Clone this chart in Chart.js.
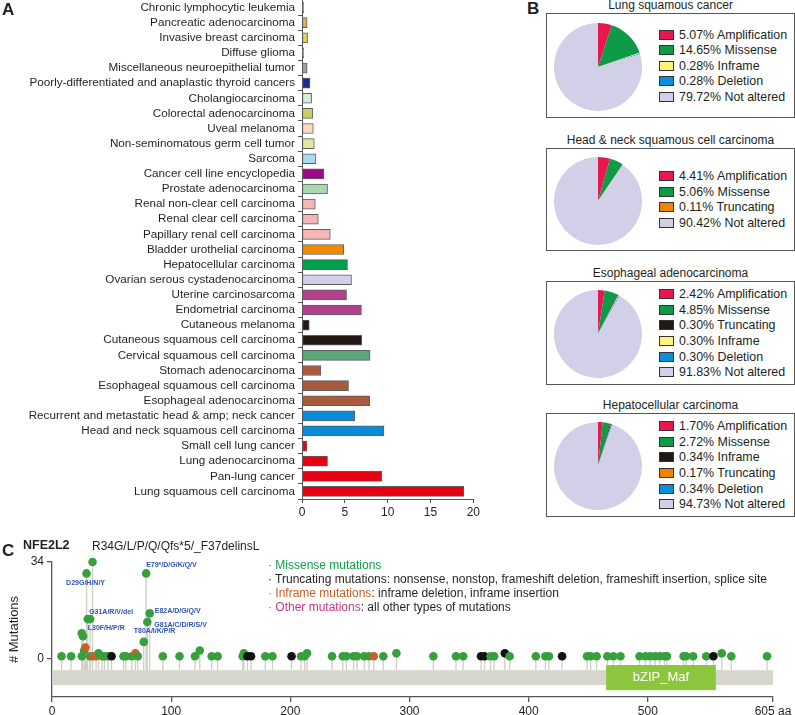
<!DOCTYPE html>
<html>
<head>
<meta charset="utf-8">
<script src="https://cdn.jsdelivr.net/npm/chart.js@4.4.1/dist/chart.umd.min.js"></script>
<style>
  body { margin: 0; background: #fff; font-family: "Liberation Sans", Arial, sans-serif; color: #231f20; }
  #fig { position: relative; width: 795px; height: 715px; overflow: hidden; background: #fff; }
  canvas { position: absolute; }
  .letter { position: absolute; font-weight: bold; font-size: 17px; line-height: 17px; }
  .pie-title { position: absolute; left: 546px; width: 249px; text-align: center; font-size: 12px; line-height: 14px; }
  .pie-box { position: absolute; left: 546px; width: 249px; border: 1.5px solid #555; box-sizing: border-box; }
  .pie-legend { position: absolute; left: 659px; font-size: 12.4px; }
  .pie-legend div { height: 15.6px; line-height: 15.6px; white-space: nowrap; }
  .pie-legend span.sw { display: inline-block; width: 13px; height: 8px; border: 1px solid #333; vertical-align: -1px; margin-right: 5px; }
  .txt { position: absolute; white-space: nowrap; }
  .mlegend { position: absolute; left: 268px; top: 558px; font-size: 12px; line-height: 14px; }
  .mlegend div { white-space: nowrap; }
</style>
</head>
<body>
<div id="fig">
  <canvas id="barChart" width="482" height="521" style="left:0;top:0"></canvas>
  <div class="letter" style="left:2px;top:1px">A</div>
  <div class="letter" style="left:527px;top:0px">B</div>
  <div id="pies"></div>

  <canvas id="lolliChart" width="795" height="165" style="left:0;top:550px"></canvas>
  <div class="letter" style="left:2px;top:542px">C</div>
  <div class="txt" style="left:23px;top:538px;font-weight:bold;font-size:12.5px">NFE2L2</div>
  <div class="txt" style="left:92px;top:539px;font-size:12px">R34G/L/P/Q/Qfs*5/_F37delinsL</div>
  <div class="mlegend">
    <div style="color:#10a04a">· Missense mutations</div>
    <div style="color:#231f20">· Truncating mutations: nonsense, nonstop, frameshift deletion, frameshift insertion, splice site</div>
    <div><span style="color:#c8602a">· Inframe mutations</span>: inframe deletion, inframe insertion</div>
    <div><span style="color:#c8368a">· Other mutations</span>: all other types of mutations</div>
  </div>
</div>

<script>
// ---------- Panel A data ----------
const cancerTypes = [
  "Chronic lymphocytic leukemia", "Pancreatic adenocarcinoma", "Invasive breast carcinoma",
  "Diffuse glioma", "Miscellaneous neuroepithelial tumor",
  "Poorly-differentiated and anaplastic thyroid cancers", "Cholangiocarcinoma",
  "Colorectal adenocarcinoma", "Uveal melanoma", "Non-seminomatous germ cell tumor", "Sarcoma",
  "Cancer cell line encyclopedia", "Prostate adenocarcinoma", "Renal non-clear cell carcinoma",
  "Renal clear cell carcinoma", "Papillary renal cell carcinoma", "Bladder urothelial carcinoma",
  "Hepatocellular carcinoma", "Ovarian serous cystadenocarcinoma", "Uterine carcinosarcoma",
  "Endometrial carcinoma", "Cutaneous melanoma", "Cutaneous squamous cell carcinoma",
  "Cervical squamous cell carcinoma", "Stomach adenocarcinoma", "Esophageal squamous cell carcinoma",
  "Esophageal adenocarcinoma", "Recurrent and metastatic head & amp; neck cancer",
  "Head and neck squamous cell carcinoma", "Small cell lung cancer", "Lung adenocarcinoma",
  "Pan-lung cancer", "Lung squamous cell carcinoma"
];
const alterationFreq = [
  0.2, 0.6, 0.65, 0.2, 0.6, 0.93, 1.12, 1.24, 1.32, 1.43, 1.63,
  2.56, 2.98, 1.55, 1.9, 3.3, 4.88, 5.31, 5.78, 5.2, 6.94, 0.85,
  6.98, 7.95, 2.2, 5.43, 7.9, 6.16, 9.57, 0.58, 2.98, 9.3, 18.9
];
const barColors = [
  "#8c8c8c", "#d9b25a", "#e6d060", "#9a9a9a", "#a3a3a3", "#1c2b8f", "#d6ecd9",
  "#c4d65a", "#fcd9c6", "#e4e89c", "#a9d9f2", "#9c0a87", "#a9d9b2", "#f4b6b6",
  "#f4b6b6", "#f4b6b6", "#f08a00", "#00a04a", "#d2d0e8", "#b1418b", "#b1418b",
  "#231815", "#231815", "#5aa878", "#a95a3c", "#a95a3c", "#a95a3c", "#0a8bd8",
  "#0a8bd8", "#e60012", "#e60012", "#e60012", "#e60012"
];
const freqTicks = [0, 5, 10, 15, 20];

// ---------- Panel B data ----------
const pieTitles = ["Lung squamous cancer", "Head & neck squamous cell carcinoma",
  "Esophageal adenocarcinoma", "Hepatocellular carcinoma"];
const pieLabels = [
  ["Amplification", "Missense", "Inframe", "Deletion", "Not altered"],
  ["Amplification", "Missense", "Truncating", "Not altered"],
  ["Amplification", "Missense", "Truncating", "Inframe", "Deletion", "Not altered"],
  ["Amplification", "Missense", "Inframe", "Truncating", "Deletion", "Not altered"]
];
const pieValues = [
  [5.07, 14.65, 0.28, 0.28, 79.72],
  [4.41, 5.06, 0.11, 90.42],
  [2.42, 4.85, 0.30, 0.30, 0.30, 91.83],
  [1.70, 2.72, 0.34, 0.17, 0.34, 94.73]
];
const pieColors = [
  ["#e8174f", "#0f9a48", "#fff47a", "#0a8fd8", "#d2d0e8"],
  ["#e8174f", "#0f9a48", "#f08300", "#d2d0e8"],
  ["#e8174f", "#0f9a48", "#231815", "#fff47a", "#0a8fd8", "#d2d0e8"],
  ["#e8174f", "#0f9a48", "#231815", "#f08300", "#0a8fd8", "#d2d0e8"]
];

// ---------- Panel C data ----------
const proteinLength = 605;
const domainName = "bZIP_Maf";
const domainStart = 465;
const domainEnd = 557;
const mutPos = [8, 16, 25, 25, 26, 27, 28, 29, 30, 32, 32, 34, 34, 37, 39, 42, 44, 47, 50,
  60, 62, 67, 70, 72, 77, 79, 80, 82, 93, 107, 120, 124, 134, 139, 160, 161, 164, 167,
  179, 185, 201, 209, 212, 214, 235, 244, 247, 253, 256, 262, 266, 270, 278, 289, 320,
  339, 345, 360, 363, 368, 371, 380, 384, 406, 414, 417, 428, 449, 452, 457, 466, 471,
  477, 493, 498, 502, 506, 510, 514, 516, 530, 532, 538, 549, 555, 562, 570, 600];
const mutCount = [1, 1, 1, 9, 8, 3, 4, 30, 14, 14, 1, 34, 1, 1, 2, 1, 1, 1, 1,
  1, 1, 1, 2, 1, 6, 30, 13, 16, 1, 1, 1, 3, 1, 1, 1, 2, 1, 1,
  1, 1, 1, 1, 1, 2, 1, 1, 1, 1, 1, 1, 1, 1, 1, 2, 1,
  1, 1, 1, 1, 1, 1, 2, 1, 1, 1, 1, 1, 1, 1, 1, 1, 1,
  1, 1, 1, 1, 1, 1, 1, 1, 1, 1, 1, 1, 1, 2, 1, 1];
const mutType = ["m", "m", "m", "m", "m", "m", "i", "m", "m", "m", "m", "m", "i", "i", "m", "m", "m", "m", "t",
  "m", "m", "m", "i", "m", "m", "m", "m", "m", "m", "m", "m", "m", "m", "m", "m", "m", "t", "t",
  "m", "m", "t", "m", "m", "m", "m", "m", "m", "m", "m", "m", "m", "i", "m", "m", "m",
  "m", "m", "t", "t", "m", "m", "t", "m", "m", "m", "m", "t", "m", "m", "m", "m", "m",
  "m", "m", "m", "m", "m", "m", "m", "m", "m", "m", "m", "m", "t", "m", "m", "m"];
const hotspotNames = ["D29G/H/N/Y", "E79*/D/G/K/Q/V", "G31A/R/V/del", "L30F/H/P/R",
  "E82A/D/G/Q/V", "G81A/C/D/R/S/V", "T80A/I/K/P/R"];
const hotspotIndex = [7, 25, 9, 8, 27, 26, 24];
const positionTicks = [0, 100, 200, 300, 400, 500, 605];
const countTicks = [0, 34];

// ---------- shared style ----------
Chart.defaults.font.family = '"Liberation Sans", Arial, sans-serif';
Chart.defaults.color = "#231f20";
Chart.defaults.animation = false;
Chart.defaults.devicePixelRatio = 1;
const axisGray = "#555";

// ---------- Panel A ----------
new Chart(document.getElementById("barChart"), {
  type: "bar",
  data: {
    labels: cancerTypes,
    datasets: [{
      data: alterationFreq,
      backgroundColor: barColors,
      borderColor: "#5e5e5e",
      borderWidth: 1,
      borderSkipped: false,
      barThickness: 10
    }]
  },
  options: {
    indexAxis: "y",
    responsive: false,
    layout: { padding: { top: 0, right: 8, left: 0, bottom: 0 } },
    plugins: { legend: { display: false }, tooltip: { enabled: false } },
    scales: {
      x: {
        min: 0, max: 20,
        afterBuildTicks: s => { s.ticks = freqTicks.map(v => ({ value: v })); },
        afterFit: s => { s.height = 22; },
        grid: { drawOnChartArea: false, tickLength: 4, color: axisGray },
        border: { color: axisGray, width: 1 },
        ticks: { font: { size: 12 }, padding: 2 }
      },
      y: {
        afterFit: s => { s.width = 302; s.paddingTop = 0; s.paddingBottom = 0; },
        grid: { drawOnChartArea: false, tickLength: 4, color: axisGray, offset: true },
        border: { color: axisGray, width: 1 },
        ticks: { font: { size: 11.7 }, padding: 3, autoSkip: false }
      }
    }
  }
});

// ---------- Panel B ----------
const pieBoxes = [[13, 118], [148, 251], [281, 385], [413, 517]];
const piesDiv = document.getElementById("pies");
pieTitles.forEach((title, k) => {
  const [top, bottom] = pieBoxes[k];
  const mid = (top + bottom) / 2;
  const t = document.createElement("div");
  t.className = "pie-title";
  t.style.top = (top - 15) + "px";
  t.textContent = title;
  piesDiv.appendChild(t);

  const box = document.createElement("div");
  box.className = "pie-box";
  box.style.top = top + "px";
  box.style.height = (bottom - top) + "px";
  piesDiv.appendChild(box);

  const c = document.createElement("canvas");
  c.width = 88; c.height = 88;
  c.style.left = "554px";
  c.style.top = (mid + 1 - 44) + "px";
  piesDiv.appendChild(c);
  new Chart(c, {
    type: "pie",
    data: {
      labels: pieLabels[k],
      datasets: [{ data: pieValues[k], backgroundColor: pieColors[k], borderWidth: 0 }]
    },
    options: {
      responsive: false,
      plugins: { legend: { display: false }, tooltip: { enabled: false } }
    }
  });

  const leg = document.createElement("div");
  leg.className = "pie-legend";
  leg.style.top = (mid + 1 - pieLabels[k].length * 15.6 / 2) + "px";
  leg.innerHTML = pieLabels[k].map((lab, i) =>
    `<div><span class="sw" style="background:${pieColors[k][i]}"></span>${pieValues[k][i].toFixed(2)}% ${lab}</div>`
  ).join("");
  piesDiv.appendChild(leg);
});

// ---------- Panel C ----------
const typeColor = { m: "#36a03d", t: "#111111", i: "#c8602a" };
const proteinTop = -3.9, proteinBottom = -9.1;
const domainTop = -2.1, domainBottom = -10.9;
const labelOffsets = [[-1, 9.5, "center"], [0, -8, "left"], [-1, -7, "left"], [0, 8.5, "left"],
  [5, -2, "left"], [7, 3, "left"], [-10, -10.5, "left"]];

const lollipopPlugin = {
  id: "lollipop",
  beforeDatasetsDraw(chart) {
    const { ctx, scales: { x, y } } = chart;
    ctx.save();
    const x0 = x.getPixelForValue(0), x1 = x.getPixelForValue(proteinLength);
    const pt = y.getPixelForValue(proteinTop), pb = y.getPixelForValue(proteinBottom);
    ctx.strokeStyle = "#cfcfc6";
    ctx.lineWidth = 1.3;
    mutPos.forEach((p, i) => {
      const px = x.getPixelForValue(p);
      ctx.beginPath();
      ctx.moveTo(px, pt);
      ctx.lineTo(px, y.getPixelForValue(mutCount[i]));
      ctx.stroke();
    });
    ctx.fillStyle = "#d6d6cc";
    ctx.fillRect(x0, pt, x1 - x0, pb - pt);
    const d0 = x.getPixelForValue(domainStart), d1 = x.getPixelForValue(domainEnd);
    const dt = y.getPixelForValue(domainTop), db = y.getPixelForValue(domainBottom);
    ctx.fillStyle = "#8cc63f";
    ctx.fillRect(d0, dt, d1 - d0, db - dt);
    ctx.fillStyle = "#ffffff";
    ctx.font = '13px "Liberation Sans", Arial, sans-serif';
    ctx.textAlign = "center";
    ctx.textBaseline = "middle";
    ctx.fillText(domainName, (d0 + d1) / 2, (dt + db) / 2);
    ctx.restore();
  },
  afterDatasetsDraw(chart) {
    const { ctx, scales: { x, y } } = chart;
    ctx.save();
    ctx.fillStyle = "#2f53b5";
    ctx.font = 'bold 7px "Liberation Sans", Arial, sans-serif';
    ctx.textBaseline = "middle";
    hotspotNames.forEach((name, k) => {
      const i = hotspotIndex[k];
      const [dx, dy, align] = labelOffsets[k];
      ctx.textAlign = align;
      ctx.fillText(name, x.getPixelForValue(mutPos[i]) + dx, y.getPixelForValue(mutCount[i]) + dy);
    });
    ctx.restore();
  }
};

new Chart(document.getElementById("lolliChart"), {
  type: "scatter",
  data: {
    datasets: [{
      data: mutPos.map((p, i) => ({ x: p, y: mutCount[i] })),
      pointBackgroundColor: mutType.map(t => typeColor[t]),
      pointBorderWidth: 0,
      pointRadius: 4.3,
      clip: false
    }]
  },
  options: {
    responsive: false,
    layout: { padding: { top: 12, right: 22, left: 0, bottom: 0 } },
    plugins: { legend: { display: false }, tooltip: { enabled: false } },
    scales: {
      x: {
        type: "linear", min: 0, max: proteinLength,
        afterBuildTicks: s => { s.ticks = positionTicks.map(v => ({ value: v })); },
        afterFit: s => { s.height = 18; },
        grid: { drawOnChartArea: false, tickLength: 5, color: axisGray, lineWidth: 1.3 },
        border: { color: axisGray, width: 1.3 },
        ticks: { font: { size: 12 }, padding: 2, callback: v => v === proteinLength ? v + " aa" : v }
      },
      y: {
        min: -13.3, max: 34,
        afterBuildTicks: s => { s.ticks = countTicks.map(v => ({ value: v })); },
        afterFit: s => { s.width = 52; },
        grid: { drawOnChartArea: false, tickLength: 5, color: axisGray, lineWidth: 1.3 },
        border: { color: axisGray, width: 1.3 },
        ticks: { font: { size: 12 }, padding: 3 },
        title: { display: true, text: "# Mutations", font: { size: 13 }, padding: { top: 7, bottom: 0 } }
      }
    }
  },
  plugins: [lollipopPlugin]
});
</script>
</body>
</html>
